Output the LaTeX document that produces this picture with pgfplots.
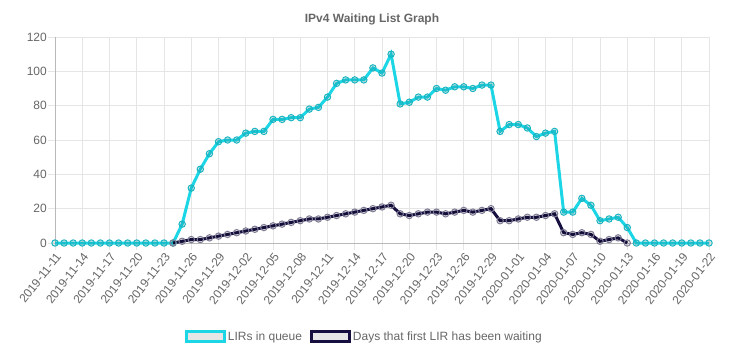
\documentclass[border=0pt]{standalone}
\usepackage{pgfplots}
\pgfplotsset{compat=1.18}
\usepackage{pgfplotstable}
\usepackage{fontspec}
\setmainfont{Liberation Sans}
\definecolor{cyanl}{RGB}{28,214,230}
\definecolor{darkl}{RGB}{22,16,64}
\definecolor{gridc}{RGB}{229,229,229}
\definecolor{zeroc}{RGB}{185,185,185}
\definecolor{txt}{RGB}{102,102,102}
\definecolor{legfill}{RGB}{230,230,230}

\pgfplotstableread{
x y
0 0
1 0
2 0
3 0
4 0
5 0
6 0
7 0
8 0
9 0
10 0
11 0
12 0
13 0
14 11
15 32
16 43
17 52
18 59
19 60
20 60
21 64
22 65
23 65
24 72
25 72
26 73
27 73
28 78
29 79
30 85
31 93
32 95
33 95
34 95
35 102
36 99
37 110
38 81
39 82
40 85
41 85
42 90
43 89
44 91
45 91
46 90
47 92
48 92
49 65
50 69
51 69
52 67
53 62
54 64
55 65
56 18
57 18
58 26
59 22
60 13
61 14
62 15
63 9
64 0
65 0
66 0
67 0
68 0
69 0
70 0
71 0
72 0
}\queue

\pgfplotstableread{
x y
13 0
14 1
15 2
16 2
17 3
18 4
19 5
20 6
21 7
22 8
23 9
24 10
25 11
26 12
27 13
28 14
29 14
30 15
31 16
32 17
33 18
34 19
35 20
36 21
37 22
38 17
39 16
40 17
41 18
42 18
43 17
44 18
45 19
46 18
47 19
48 20
49 13
50 13
51 14
52 15
53 15
54 16
55 17
56 6
57 5
58 6
59 5
60 1
61 2
62 3
63 0
}\days

\begin{document}
\begin{tikzpicture}[x=1bp,y=1bp]
\path[use as bounding box] (0,0) rectangle (744,358);
\node[font=\bfseries\fontsize{12bp}{14bp}\selectfont, text=txt] at (372,339) {IPv4 Waiting List Graph};
\begin{axis}[
  at={(55bp,115bp)}, anchor=south west,
  scale only axis, width=654bp, height=206bp,
  xmin=0, xmax=72, ymin=0, ymax=120,
  xtick={0,3,...,72},
  xticklabels={2019-11-11,2019-11-14,2019-11-17,2019-11-20,2019-11-23,2019-11-26,2019-11-29,2019-12-02,2019-12-05,2019-12-08,2019-12-11,2019-12-14,2019-12-17,2019-12-20,2019-12-23,2019-12-26,2019-12-29,2020-01-01,2020-01-04,2020-01-07,2020-01-10,2020-01-13,2020-01-16,2020-01-19,2020-01-22},
  ytick={0,20,...,120},
  grid=major, grid style={draw=gridc, line width=0.8bp},
  axis x line*=bottom, axis y line*=left,
  axis line style={draw=zeroc, line width=1bp, -},
  tick align=outside, major tick length=7bp,
  tick style={draw=gridc, line width=0.8bp},
  tick label style={font=\fontsize{12bp}{14bp}\selectfont, text=txt},
  /pgf/number format/assume math mode=true,
  xticklabel style={rotate=52, anchor=north east, inner sep=1bp},
  yticklabel style={inner sep=1bp},
  clip=false,
  legend columns=2,
  legend cell align=left,
  legend style={at={(0.473,-0.456)}, anchor=center, draw=none, fill=none,
    font=\fontsize{12bp}{14bp}\selectfont, text=txt,
    /tikz/every even column/.append style={column sep=6bp},
    /tikz/every odd column/.append style={column sep=0bp}},
]
\addplot[color=cyanl, line width=3bp, mark=*, mark size=3.2bp,
  mark options={draw=cyanl!85!black, fill=black, fill opacity=0.1, line width=1bp},
  legend image code/.code={\draw[cyanl, line width=3bp, fill=legfill] (-2bp,-5bp) rectangle (36bp,5bp);}]
  table[x=x,y=y] {\queue};
\addlegendentry{LIRs in queue}
\addplot[color=darkl, line width=3bp, mark=*, mark size=3.2bp,
  mark options={draw=darkl!55!white, fill=black, fill opacity=0.1, line width=1bp},
  legend image code/.code={\draw[darkl, line width=3bp, fill=legfill] (-2bp,-5bp) rectangle (36bp,5bp);}]
  table[x=x,y=y] {\days};
\addlegendentry{Days that first LIR has been waiting}
\end{axis}
\end{tikzpicture}
\end{document}
